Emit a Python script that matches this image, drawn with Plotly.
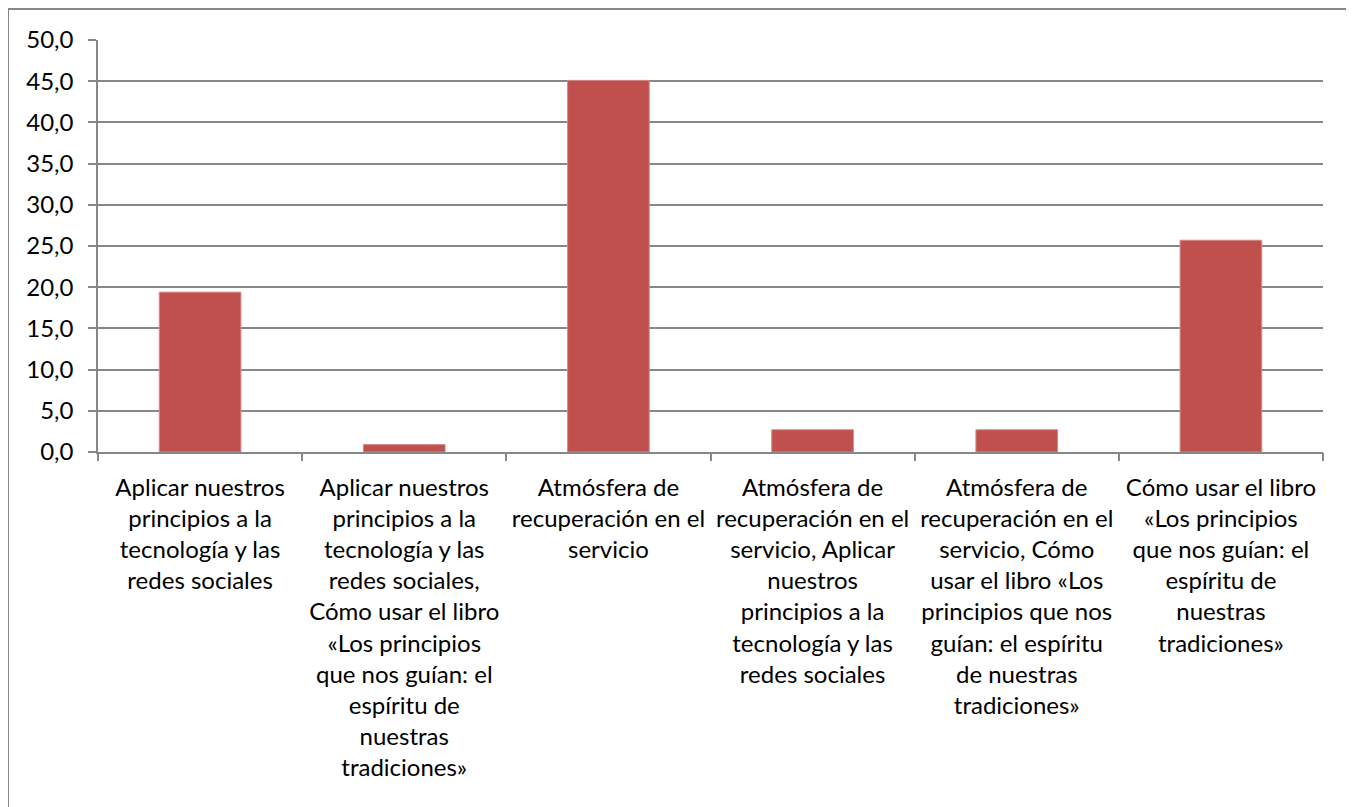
import plotly.graph_objects as go

categories = [
    "Aplicar nuestros<br>principios a la<br>tecnología y las<br>redes sociales",
    "Aplicar nuestros<br>principios a la<br>tecnología y las<br>redes sociales,<br>Cómo usar el libro<br>«Los principios<br>que nos guían: el<br>espíritu de<br>nuestras<br>tradiciones»",
    "Atmósfera de<br>recuperación en el<br>servicio",
    "Atmósfera de<br>recuperación en el<br>servicio, Aplicar<br>nuestros<br>principios a la<br>tecnología y las<br>redes sociales",
    "Atmósfera de<br>recuperación en el<br>servicio, Cómo<br>usar el libro «Los<br>principios que nos<br>guían: el espíritu<br>de nuestras<br>tradiciones»",
    "Cómo usar el libro<br>«Los principios<br>que nos guían: el<br>espíritu de<br>nuestras<br>tradiciones»",
]
values = [19.4, 0.9, 45.1, 2.7, 2.7, 25.7]
y_ticks = [0, 5, 10, 15, 20, 25, 30, 35, 40, 45, 50]

OFF = 8  # page body margin
W, H = 1354 - OFF, 807 - OFF
L, T = 98 - OFF, 40 - OFF
R = W - (1323 - OFF)
B = H - (452 - OFF)
pw, ph = W - L - R, H - T - B

fig = go.Figure(go.Bar(
    x=list(range(len(categories))), y=values,
    marker=dict(color="#C0504D", line=dict(color="#D58A88", width=1)),
))

fig.update_layout(
    width=W, height=H,
    margin=dict(l=L, r=R, t=T, b=B),
    plot_bgcolor="white", paper_bgcolor="white",
    bargap=0.6, showlegend=False,
    separators=",.",
    font=dict(family="Lato, Carlito, sans-serif", color="#000000"),
    shapes=[dict(
        type="rect", xref="paper", yref="paper",
        x0=(8 - 98) / pw, x1=(1352 - 98) / pw,
        y0=-(840 - 452) / ph, y1=(452 - 9) / ph,
        line=dict(color="#878787", width=2), fillcolor="rgba(0,0,0,0)", layer="below",
    )],
)

fig.update_xaxes(
    type="linear", range=[-0.5, len(categories) - 0.5],
    tickmode="array", tickvals=list(range(len(categories))), ticktext=categories,
    showgrid=False, zeroline=False,
    showline=True, linecolor="#878787", linewidth=1.5,
    ticks="", tickfont=dict(size=24, color="#000000"),
    tickangle=0, ticklabelstandoff=13,
)
# boundary ticks on a second overlaying axis
fig.update_layout(xaxis2=dict(
    overlaying="x", side="bottom", range=[-0.5, len(categories) - 0.5],
    tickmode="array", tickvals=[i - 0.5 for i in range(len(categories) + 1)],
    showticklabels=False, ticks="outside", ticklen=8, tickcolor="#878787", tickwidth=1.5,
    showgrid=False, zeroline=False, showline=False,
))
fig.add_trace(go.Scatter(x=[0], y=[0], xaxis="x2", mode="markers",
                         marker=dict(opacity=0), hoverinfo="skip", showlegend=False))

fig.update_yaxes(
    range=[0, 50], tickmode="array", tickvals=y_ticks, tickformat=".1f",
    showgrid=True, gridcolor="#878787", gridwidth=1.5,
    showline=True, linecolor="#878787", linewidth=1.5,
    ticks="outside", ticklen=8, tickcolor="#878787", tickwidth=1.5,
    zeroline=False, tickfont=dict(size=24, color="#000000"),
    ticklabelstandoff=10,
)

fig.write_html("out.html")
